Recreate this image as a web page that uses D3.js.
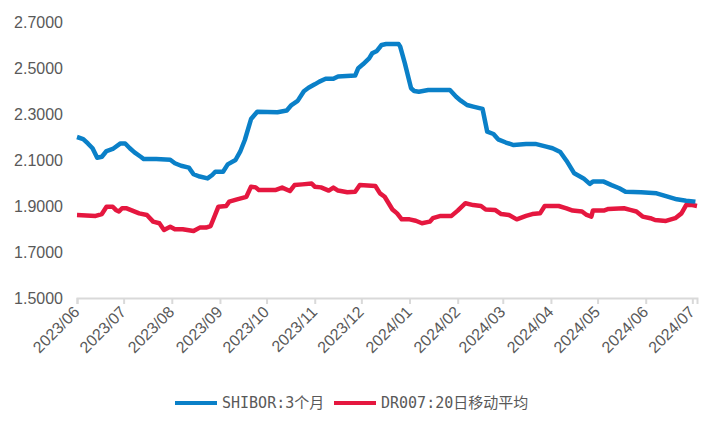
<!DOCTYPE html>
<html><head><meta charset="utf-8">
<script src="https://cdn.jsdelivr.net/npm/d3@7/dist/d3.min.js"></script>
<style>body{margin:0;background:#fff}svg{display:block}</style>
</head><body><svg id="c" width="720" height="432"></svg>
<script>
// ---- data ----
const shiborDates = ["2023-06-01","2023-06-05","2023-06-08","2023-06-11","2023-06-14","2023-06-17","2023-06-20","2023-06-24","2023-06-29","2023-07-02","2023-07-05","2023-07-08","2023-07-12","2023-07-14","2023-07-22","2023-07-31","2023-08-03","2023-08-07","2023-08-12","2023-08-15","2023-08-19","2023-08-24","2023-08-27","2023-08-29","2023-09-03","2023-09-06","2023-09-11","2023-09-14","2023-09-17","2023-09-21","2023-09-25","2023-10-08","2023-10-14","2023-10-17","2023-10-21","2023-10-25","2023-10-28","2023-11-01","2023-11-04","2023-11-08","2023-11-13","2023-11-16","2023-11-27","2023-11-29","2023-12-02","2023-12-06","2023-12-08","2023-12-11","2023-12-14","2023-12-17","2023-12-25","2023-12-26","2023-12-29","2024-01-02","2024-01-04","2024-01-07","2024-01-13","2024-01-27","2024-01-31","2024-02-03","2024-02-07","2024-02-11","2024-02-17","2024-02-20","2024-02-24","2024-02-27","2024-03-03","2024-03-08","2024-03-16","2024-03-22","2024-03-29","2024-04-02","2024-04-07","2024-04-11","2024-04-16","2024-04-22","2024-04-26","2024-04-28","2024-05-05","2024-05-10","2024-05-15","2024-05-19","2024-05-29","2024-06-08","2024-06-14","2024-06-21","2024-06-27","2024-07-03"];
const shiborValues = [2.200,2.191,2.172,2.151,2.110,2.114,2.139,2.148,2.172,2.172,2.151,2.133,2.114,2.104,2.104,2.101,2.086,2.075,2.067,2.038,2.028,2.020,2.035,2.049,2.049,2.081,2.100,2.136,2.187,2.278,2.310,2.308,2.315,2.339,2.357,2.399,2.414,2.429,2.441,2.453,2.453,2.463,2.467,2.499,2.516,2.542,2.564,2.574,2.600,2.604,2.604,2.593,2.520,2.412,2.400,2.397,2.404,2.404,2.375,2.358,2.339,2.332,2.322,2.223,2.213,2.190,2.176,2.165,2.170,2.170,2.158,2.151,2.135,2.097,2.042,2.020,1.996,2.006,2.006,1.991,1.977,1.962,1.960,1.955,1.943,1.929,1.923,1.919];

const drDates = ["2023-06-01","2023-06-13","2023-06-17","2023-06-20","2023-06-24","2023-06-26","2023-06-28","2023-06-30","2023-07-03","2023-07-11","2023-07-16","2023-07-20","2023-07-24","2023-07-27","2023-07-31","2023-08-03","2023-08-08","2023-08-15","2023-08-19","2023-08-23","2023-08-26","2023-08-31","2023-09-05","2023-09-07","2023-09-12","2023-09-18","2023-09-21","2023-09-24","2023-09-26","2023-10-07","2023-10-11","2023-10-16","2023-10-19","2023-10-24","2023-10-30","2023-11-01","2023-11-05","2023-11-10","2023-11-13","2023-11-16","2023-11-22","2023-11-27","2023-11-30","2023-12-10","2023-12-13","2023-12-16","2023-12-21","2023-12-24","2023-12-27","2024-01-01","2024-01-05","2024-01-09","2024-01-14","2024-01-16","2024-01-21","2024-01-28","2024-02-01","2024-02-06","2024-02-11","2024-02-16","2024-02-19","2024-02-25","2024-02-29","2024-03-05","2024-03-10","2024-03-16","2024-03-20","2024-03-25","2024-03-28","2024-04-06","2024-04-11","2024-04-15","2024-04-21","2024-04-24","2024-04-27","2024-04-28","2024-05-05","2024-05-08","2024-05-18","2024-05-22","2024-05-26","2024-05-30","2024-06-04","2024-06-07","2024-06-14","2024-06-20","2024-06-24","2024-06-27","2024-07-01","2024-07-04"];
const drValues = [1.861,1.857,1.865,1.897,1.897,1.883,1.876,1.890,1.890,1.868,1.861,1.832,1.825,1.796,1.810,1.799,1.799,1.791,1.806,1.806,1.813,1.897,1.900,1.919,1.929,1.940,1.984,1.981,1.970,1.970,1.980,1.965,1.991,1.994,1.998,1.984,1.981,1.967,1.980,1.967,1.960,1.962,1.991,1.987,1.955,1.940,1.885,1.868,1.842,1.842,1.836,1.825,1.832,1.847,1.857,1.857,1.880,1.912,1.904,1.900,1.885,1.883,1.865,1.861,1.842,1.857,1.865,1.868,1.900,1.900,1.890,1.880,1.876,1.861,1.854,1.880,1.880,1.887,1.890,1.883,1.876,1.854,1.847,1.839,1.835,1.847,1.868,1.904,1.904,1.900];

const yTicks = [1.5, 1.7, 1.9, 2.1, 2.3, 2.5, 2.7];
const xStart = "2023-06-01", xEnd = "2024-07-04";
const seriesNames = ["SHIBOR:3个月", "DR007:20日移动平均"];
const seriesColors = ["#0a80c8", "#e5173f"];

// ---- drawing ----
const parse = d3.timeParse("%Y-%m-%d");
const svg = d3.select("#c");
const x = d3.scaleTime().domain([parse(xStart), parse(xEnd)]).range([77, 697]);
const y = d3.scaleLinear().domain([1.5, 2.7]).range([298, 22]);

// y labels
svg.append("g").selectAll("text").data(yTicks).join("text")
  .attr("x", 63).attr("y", d => y(d)).attr("dy", "0.35em")
  .attr("text-anchor", "end")
  .attr("font-family", "'Liberation Sans', Arial, sans-serif")
  .attr("font-size", 16).attr("fill", "#595959")
  .text(d => d3.format(".4f")(d));

// x axis
const xAxis = d3.axisBottom(x).ticks(d3.timeMonth.every(1)).tickSize(6).tickFormat(d3.timeFormat("%Y/%m"));
const gx = svg.append("g").attr("transform", "translate(0,298)").call(xAxis);
gx.select(".domain").attr("stroke", "#d9d9d9").attr("stroke-width", 2);
gx.selectAll(".tick line").attr("stroke", "#d9d9d9").attr("stroke-width", 2);
gx.selectAll(".tick text")
  .attr("font-family", "'Liberation Sans', Arial, sans-serif")
  .attr("font-size", 16).attr("fill", "#595959")
  .attr("text-anchor", "end")
  .attr("dy", 0).attr("y", 0)
  .attr("transform", "translate(3,15) rotate(-45)");

const line = d3.line().x(d => x(d[0])).y(d => y(d[1]));
const series = [
  d3.zip(shiborDates.map(parse), shiborValues),
  d3.zip(drDates.map(parse), drValues)
];
svg.append("path").datum(series[1]).attr("d", line)
  .attr("fill", "none").attr("stroke", seriesColors[1]).attr("stroke-width", 4.5)
  .attr("stroke-linejoin", "round").attr("stroke-linecap", "butt");
svg.append("path").datum(series[0]).attr("d", line)
  .attr("fill", "none").attr("stroke", seriesColors[0]).attr("stroke-width", 4.5)
  .attr("stroke-linejoin", "round").attr("stroke-linecap", "butt");

// legend
const legendItems = [{x: 175, tx: 222}, {x: 334, tx: 381}];
const lg = svg.append("g");
seriesNames.forEach((name, i) => {
  lg.append("line").attr("x1", legendItems[i].x).attr("x2", legendItems[i].x + 42)
    .attr("y1", 403).attr("y2", 403)
    .attr("stroke", seriesColors[i]).attr("stroke-width", 4);
  lg.append("text").attr("x", legendItems[i].tx).attr("y", 403).attr("dy", "0.35em")
    .attr("font-family", "'DejaVu Sans Mono', 'Noto Sans CJK SC', monospace")
    .attr("font-size", 15).attr("fill", "#595959")
    .text(name);
});
</script>
</body></html>
